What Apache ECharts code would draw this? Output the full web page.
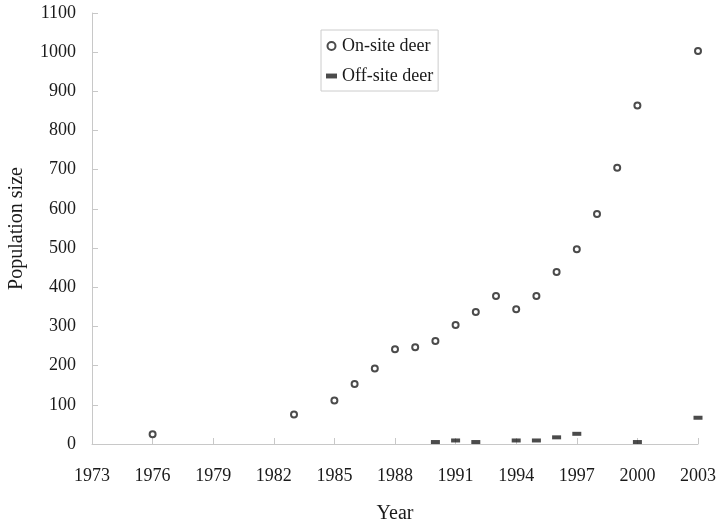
<!DOCTYPE html>
<html>
<head>
<meta charset="utf-8">
<script src="https://cdn.jsdelivr.net/npm/echarts@6/dist/echarts.min.js"></script>
<style>
    html, body { margin: 0; padding: 0; background: #fff; }
    #main { width: 717px; height: 523px; }
</style>
</head>
<body>
<div id="main"></div>
<script>
// on-site deer counts
var onYears = [1976, 1983, 1985, 1986, 1987, 1988, 1989, 1990, 1991, 1992, 1993, 1994, 1995, 1996, 1997, 1998, 1999, 2000, 2003];
var onValues = [25, 75, 111, 153, 193, 242, 247, 263, 304, 337, 378, 344, 378, 439, 497, 587, 705, 864, 1003];
// off-site deer counts
var offYears = [1990, 1991, 1992, 1994, 1995, 1996, 1997, 2000, 2003];
var offValues = [5, 9, 5, 9, 9, 17, 26, 5, 67];

var fontFam = '"Liberation Serif", "Times New Roman", serif';
var dashPath = 'path://M0,0h9v4h-9z';

function pairs(xs, ys) {
    var out = [];
    for (var i = 0; i < xs.length; i++) {
        out.push([xs[i], ys[i]]);
    }
    return out;
}

// plain numbers, no thousand separators
function plain(v) {
    return String(v);
}

var chart = echarts.init(document.getElementById('main'));
var option = {
    animation: false,
    textStyle: { fontFamily: fontFam },
    grid: { left: 92, right: 19, top: 13, bottom: 79, containLabel: false, outerBoundsMode: 'none' },
    legend: {
        left: 321,
        top: 30,
        orient: 'vertical',
        backgroundColor: '#fff',
        borderColor: '#cccccc',
        borderWidth: 1,
        padding: [7, 5, 6, 5],
        itemWidth: 11,
        itemHeight: 8,
        itemGap: 12,
        textStyle: { fontFamily: fontFam, fontSize: 18, color: '#1a1a1a', lineHeight: 18 },
        data: [
            { name: 'On-site deer', icon: 'circle' },
            { name: 'Off-site deer', icon: dashPath }
        ]
    },
    xAxis: {
        type: 'value',
        min: 1973,
        max: 2003,
        interval: 3,
        name: 'Year',
        nameLocation: 'middle',
        nameGap: 60,
        nameTextStyle: { fontFamily: fontFam, fontSize: 20, color: '#1a1a1a' },
        axisLine: { lineStyle: { color: '#c8c8c8', width: 1 } },
        axisTick: { show: true, inside: true, length: 6, lineStyle: { color: '#c8c8c8' } },
        axisLabel: { fontFamily: fontFam, fontSize: 18, color: '#1a1a1a', margin: 23, formatter: plain },
        splitLine: { show: false }
    },
    yAxis: {
        type: 'value',
        min: 0,
        max: 1100,
        interval: 100,
        name: 'Population size',
        nameLocation: 'middle',
        nameGap: 65,
        nameTextStyle: { fontFamily: fontFam, fontSize: 20, color: '#1a1a1a' },
        axisLine: { show: true, lineStyle: { color: '#c8c8c8', width: 1 } },
        axisTick: { show: true, inside: true, length: 6, lineStyle: { color: '#c8c8c8' } },
        axisLabel: { fontFamily: fontFam, fontSize: 18, color: '#1a1a1a', margin: 16, formatter: plain },
        splitLine: { show: false }
    },
    series: [
        {
            name: 'On-site deer',
            type: 'scatter',
            symbol: 'circle',
            symbolSize: 6,
            itemStyle: { color: '#fff', borderColor: '#1e1e1e', borderWidth: 2 },
            data: pairs(onYears, onValues)
        },
        {
            name: 'Off-site deer',
            type: 'scatter',
            symbol: dashPath,
            symbolSize: [9, 4],
            itemStyle: { color: '#1e1e1e' },
            data: pairs(offYears, offValues)
        }
    ]
};
chart.setOption(option);
</script>
</body>
</html>
